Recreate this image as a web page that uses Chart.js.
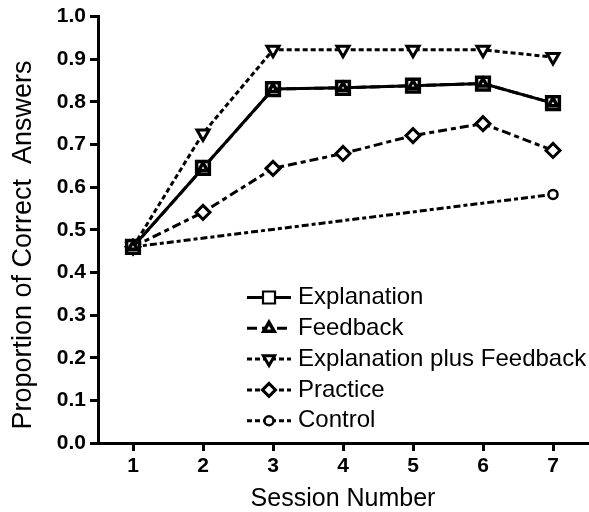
<!DOCTYPE html>
<html>
<head>
<meta charset="utf-8">
<script src="https://cdn.jsdelivr.net/npm/chart.js@4/dist/chart.umd.min.js"></script>
<style>
  html, body { margin: 0; padding: 0; background: #fff; }
  canvas { display: block; }
</style>
</head>
<body>
<canvas id="chart" width="589" height="512"></canvas>
<script>
// Session numbers on the x axis
const sessions = ['1', '2', '3', '4', '5', '6', '7'];

// Proportion of correct answers per group
const explanation = [0.46, 0.645, 0.83, 0.833, 0.838, 0.843, 0.797];
const feedback = [0.46, 0.645, 0.83, 0.833, 0.838, 0.843, 0.797];
const explanationPlusFeedback = [0.46, 0.726, 0.922, 0.922, 0.922, 0.922, 0.905];
const practice = [0.46, 0.541, 0.644, 0.679, 0.721, 0.749, 0.686];
const control = [0.46, null, null, null, null, null, 0.583];

const yTitle = 'Proportion of Correct  Answers';

const FONT = "'Liberation Sans', Arial, Helvetica, sans-serif";
Chart.defaults.font.family = FONT;
Chart.defaults.color = '#000';

// legend drawn like the original: a short line with the marker in the middle,
// plus the y title which sits a bit below the axis centre in the original
const lineLegend = {
  id: 'lineLegend',
  afterDraw(chart) {
    const ctx = chart.ctx;
    const x0 = 247, x1 = 291, xm = 269, xt = 298;
    const y0 = 297.5, step = 30.8;
    chart.data.datasets.forEach((ds, i) => {
      const y = y0 + i * step;
      ctx.save();
      ctx.strokeStyle = '#000';
      ctx.lineWidth = 3;
      ctx.setLineDash(ds.legendDash || []);
      ctx.beginPath();
      ctx.moveTo(x0, y);
      ctx.lineTo(x1, y);
      ctx.stroke();
      ctx.setLineDash([]);
      ctx.fillStyle = '#fff';
      ctx.lineWidth = ds.legendBorder;
      Chart.helpers.drawPoint(ctx, {
        pointStyle: ds.pointStyle,
        rotation: ds.pointRotation || 0,
        radius: ds.legendRadius,
        borderWidth: ds.legendBorder
      }, xm, y);
      ctx.fillStyle = '#000';
      ctx.font = '24px ' + FONT;
      ctx.textBaseline = 'middle';
      ctx.textAlign = 'left';
      ctx.fillText(ds.label, xt, y);
      ctx.restore();
    });

    ctx.save();
    ctx.translate(24, 245);
    ctx.rotate(-Math.PI / 2);
    ctx.fillStyle = '#000';
    ctx.font = '27px ' + FONT;
    ctx.textAlign = 'center';
    ctx.textBaseline = 'middle';
    ctx.fillText(yTitle, 0, 0);
    ctx.restore();
  }
};

const base = {
  borderColor: '#000',
  pointBorderColor: '#000',
  pointBackgroundColor: '#fff',
  borderWidth: 3,
  tension: 0,
  fill: false
};

new Chart(document.getElementById('chart'), {
  type: 'line',
  data: {
    labels: sessions,
    datasets: [
      { ...base, label: 'Explanation', data: explanation, order: 2,
        pointStyle: 'rect', pointRadius: 9, pointBorderWidth: 3.5,
        legendRadius: 8.5, legendBorder: 2.2, legendDash: [] },
      { ...base, label: 'Feedback', data: feedback, order: 1,
        borderDash: [10, 4], pointStyle: 'triangle', pointRadius: 5, pointBorderWidth: 3.5,
        legendRadius: 6, legendBorder: 3.5, legendDash: [10, 5] },
      { ...base, label: 'Explanation plus Feedback', data: explanationPlusFeedback, order: 3,
        borderDash: [5, 3], pointStyle: 'triangle', pointRotation: 180, pointRadius: 7, pointBorderWidth: 3,
        legendRadius: 6.5, legendBorder: 3, legendDash: [5, 3] },
      { ...base, label: 'Practice', data: practice, order: 4,
        borderDash: [9, 4, 5, 4], pointStyle: 'rectRot', pointRadius: 7, pointBorderWidth: 3,
        legendRadius: 6.5, legendBorder: 3, legendDash: [5, 3] },
      { ...base, label: 'Control', data: control, order: 5, spanGaps: true,
        borderDash: [7, 3, 4, 3], pointStyle: 'circle', pointRadius: 4.5, pointBorderWidth: 2.5,
        legendRadius: 4.5, legendBorder: 2.5, legendDash: [5, 3] }
    ]
  },
  options: {
    responsive: false,
    animation: false,
    events: [],
    layout: { autoPadding: false, padding: { top: 16, right: 1, bottom: 0, left: 0 } },
    plugins: {
      legend: { display: false },
      tooltip: { enabled: false }
    },
    scales: {
      x: {
        type: 'category',
        offset: true,
        grid: { display: true, offset: false, drawOnChartArea: false, drawTicks: true,
                tickLength: 8, lineWidth: 3, color: '#000' },
        border: { display: true, color: '#000', width: 3 },
        ticks: { color: '#000', padding: 3, maxRotation: 0, font: { size: 21, weight: 'bold' } },
        title: { display: true, text: 'Session Number', color: '#000',
                 font: { size: 25 }, padding: { top: 0, bottom: -2 } },
        afterFit(scale) { scale.height = 69; }
      },
      y: {
        min: 0,
        max: 1,
        grid: { display: true, drawOnChartArea: false, drawTicks: true,
                tickLength: 8, lineWidth: 3, color: '#000' },
        border: { display: true, color: '#000', width: 3 },
        ticks: { stepSize: 0.1, color: '#000', padding: 4, font: { size: 21, weight: 'bold' },
                 callback: v => Number(v).toFixed(1) },
        afterFit(scale) { scale.width = 98; }
      }
    }
  },
  plugins: [lineLegend]
});
</script>
</body>
</html>
